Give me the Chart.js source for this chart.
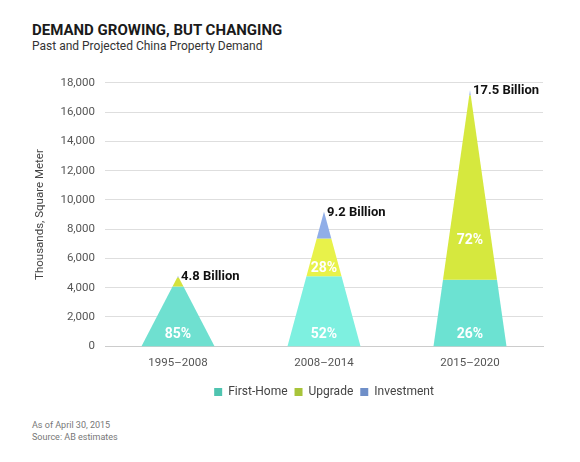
<!DOCTYPE html>
<html>
<head>
<meta charset="utf-8">
<script src="https://cdn.jsdelivr.net/npm/chart.js@4.4.1/dist/chart.umd.min.js"></script>
<style>
  html, body { margin: 0; padding: 0; background: #fff; }
  body { width: 580px; height: 462px; position: relative; overflow: hidden; font-family: Roboto, "Noto Sans", sans-serif; }
  #title { position: absolute; left: 32px; top: 21px; font-size: 15px; font-weight: 700; color: #1a1a1a; }
  #subtitle { position: absolute; left: 32px; top: 39px; font-size: 12px; color: #333; }
  #foot { position: absolute; left: 32px; top: 419px; font-size: 9px; line-height: 12px; color: #777; }
  #wrap { position: absolute; left: 0; top: 66px; width: 580px; height: 342px; }
</style>
</head>
<body>
<div id="title">DEMAND GROWING, BUT CHANGING</div>
<div id="subtitle">Past and Projected China Property Demand</div>
<div id="wrap"><canvas id="c"></canvas></div>
<div id="foot">As of April 30, 2015<br>Source: AB estimates</div>
<script>
const categories = ['1995–2008', '2008–2014', '2015–2020'];
const firstHome = [4080, 4780, 4550];
const upgrade = [620, 2580, 12600];
const investment = [100, 1840, 350];
const totalLabels = ['4.8 Billion', '9.2 Billion', '17.5 Billion'];
const firstHomePct = ['85%', '52%', '26%'];
const upgradePct = ['', '28%', '72%'];
const seriesNames = ['First-Home', 'Upgrade', 'Investment'];
const yTicks = [0, 2000, 4000, 6000, 8000, 10000, 12000, 14000, 16000, 18000];

const fillColors = [
  ['#6fe0d0', '#7ef0e0', '#6ce2d2'],
  ['#d4e23c', '#e8f24a', '#d6e83e'],
  ['#90aee8', '#90aee8', '#90aee8']
];
const legendColors = ['#4fc4b0', '#a8c43a', '#6f8fc8'];

const pyramidPlugin = {
  id: 'pyramids',
  afterLayout(chart) {
    if (chart.legend) {
      chart.legend.left = chart.chartArea.left;
      chart.legend.right = chart.chartArea.right;
    }
  },
  beforeDatasetDraw() { return false; },
  afterDatasetsDraw(chart) {
    const ctx = chart.ctx;
    const y = chart.scales.y;
    const metas = chart.data.datasets.map((d, i) => chart.getDatasetMeta(i));
    categories.forEach((cat, i) => {
      const bar = metas[0].data[i];
      const cx = bar.x;
      const half = bar.width / 2;
      const total = chart.data.datasets.reduce((s, d) => s + d.data[i], 0);
      const w = v => half * (1 - v / total);
      let a = 0;
      chart.data.datasets.forEach((ds, di) => {
        const b = a + ds.data[i];
        ctx.save();
        ctx.fillStyle = fillColors[di][i];
        ctx.beginPath();
        ctx.moveTo(cx - w(a), y.getPixelForValue(a));
        ctx.lineTo(cx + w(a), y.getPixelForValue(a));
        ctx.lineTo(cx + w(b), y.getPixelForValue(b));
        ctx.lineTo(cx - w(b), y.getPixelForValue(b));
        ctx.closePath();
        ctx.fill();
        ctx.restore();
        a = b;
      });
      ctx.save();
      ctx.fillStyle = '#111';
      ctx.font = 'bold 13px Roboto, sans-serif';
      ctx.textAlign = 'left';
      ctx.textBaseline = 'middle';
      ctx.fillText(totalLabels[i], cx + 3, y.getPixelForValue(total) + 1);
      ctx.fillStyle = '#fff';
      ctx.font = 'bold 14px Roboto, sans-serif';
      ctx.textAlign = 'center';
      ctx.fillText(firstHomePct[i], cx, y.getPixelForValue(0) - 12);
      if (upgradePct[i]) {
        const lo = firstHome[i], hi = firstHome[i] + upgrade[i];
        ctx.fillText(upgradePct[i], cx, y.getPixelForValue(lo + 0.21 * (hi - lo)));
      }
      ctx.restore();
    });
  }
};

new Chart(document.getElementById('c'), {
  type: 'bar',
  data: {
    labels: categories,
    datasets: [
      { label: seriesNames[0], data: firstHome, backgroundColor: legendColors[0] },
      { label: seriesNames[1], data: upgrade, backgroundColor: legendColors[1] },
      { label: seriesNames[2], data: investment, backgroundColor: legendColors[2] }
    ]
  },
  options: {
    responsive: true,
    maintainAspectRatio: false,
    animation: false,
    layout: { padding: { left: 33, right: 37, top: 14, bottom: 0 } },
    datasets: { bar: { categoryPercentage: 1, barPercentage: 0.5 } },
    plugins: {
      tooltip: { enabled: false },
      legend: {
        position: 'bottom',
        labels: {
          boxWidth: 8, boxHeight: 8, padding: 7, color: '#444',
          font: { family: 'Roboto', size: 12 }
        }
      }
    },
    scales: {
      x: {
        stacked: true,
        grid: { display: false },
        border: { color: '#ccc' },
        afterFit: s => { s.height += 7; },
        ticks: { color: '#555', font: { family: 'Roboto', size: 11.5 }, padding: 2 }
      },
      y: {
        stacked: true,
        min: 0, max: 18000,
        afterBuildTicks: s => { s.ticks = yTicks.map(v => ({ value: v })); },
        afterFit: s => { s.width = 72; },
        grid: { color: '#dedede', drawTicks: false },
        border: { display: false },
        ticks: { color: '#555', font: { family: 'Roboto', size: 11.5 }, padding: 10,
                 callback: v => v.toLocaleString('en-US') },
        title: { display: true, text: 'Thousands, Square Meter', color: '#444',
                 font: { family: 'Roboto', size: 11.5 }, padding: 0 }
      }
    }
  },
  plugins: [pyramidPlugin]
});
</script>
</body>
</html>
